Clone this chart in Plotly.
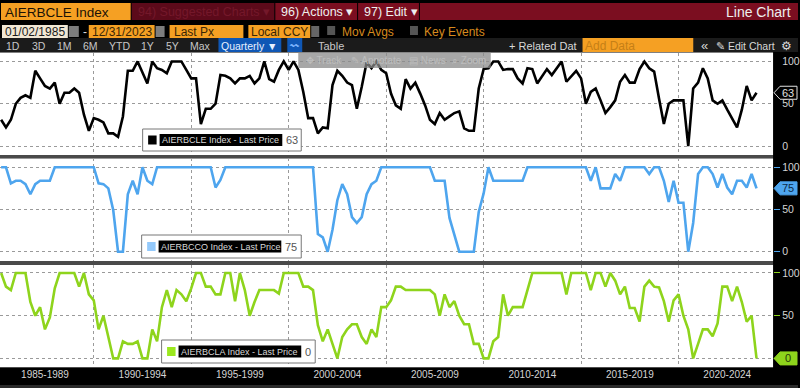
import pandas as pd
import plotly.graph_objects as go
from plotly.subplots import make_subplots

quarters = pd.date_range("1985-03-31", "2023-12-31", freq="QE")

aierbcle = [31,22,31,50,57,60,57,89,80,71,68,75,50,63,63,68,63,37,18,33,
            31,28,15,15,11,35,89,89,100,88,74,100,92,90,86,100,100,100,90,80,
            80,26,44,44,50,84,83,80,74,80,80,83,74,80,100,79,76,90,100,90,
            100,90,64,33,33,15,22,21,72,89,83,75,72,44,70,99,92,100,90,86,
            62,48,44,79,68,75,62,48,31,26,39,31,35,39,41,21,18,18,68,91,
            92,100,100,90,91,91,80,74,92,91,74,82,91,84,92,100,76,82,89,80,
            50,64,68,54,39,46,54,76,84,75,75,91,100,92,88,56,26,50,54,54,
            54,0,68,75,92,80,54,50,54,43,32,22,43,71,54,63]

aierbcco = [100,100,81,84,84,80,68,80,84,84,84,100,100,100,100,100,100,100,100,100,
            81,80,75,49,0,0,68,84,68,100,84,80,100,100,100,100,100,100,100,100,
            100,100,100,100,76,85,100,100,100,100,100,100,100,100,100,100,100,100,100,100,
            100,100,100,100,100,21,17,0,26,61,80,68,41,34,41,68,80,84,100,100,
            100,100,100,100,100,100,100,100,100,84,84,84,40,20,0,0,0,0,47,69,
            100,84,84,84,84,84,84,84,100,100,100,100,100,100,100,100,100,100,100,100,
            100,84,100,75,75,75,92,84,100,100,100,100,100,92,100,100,84,59,84,58,
            58,0,34,92,100,100,92,76,92,76,68,84,84,76,92,75]

aierbcla = [100,84,80,100,100,100,66,50,60,34,48,82,100,100,100,100,84,100,75,68,
            34,50,25,0,0,20,17,17,20,0,0,34,20,60,80,60,80,75,67,82,
            100,100,84,84,75,75,100,100,67,100,80,50,66,80,80,80,80,76,100,100,
            100,100,84,84,80,39,20,34,17,0,25,34,40,40,25,17,34,25,60,60,
            68,84,84,80,80,80,80,80,80,75,50,75,60,67,50,40,40,17,17,0,
            0,20,25,75,50,60,60,60,80,100,100,100,100,100,100,100,75,100,100,100,
            100,80,100,100,84,100,91,75,84,59,59,43,84,91,84,83,67,43,68,75,
            50,34,0,17,34,34,26,41,84,84,67,84,66,43,50,0]

series_names = ["AIERBCLE Index", "AIERBCCO Index", "AIERBCLA Index"]
series_values = [aierbcle, aierbcco, aierbcla]
series_colors = ["#000000", "#4ea5ee", "#8ed41c"]
swatch_colors = ["#000000", "#93c9fb", "#9be81e"]
period_labels = ["1985-1989", "1990-1994", "1995-1999", "2000-2004",
                 "2005-2009", "2010-2014", "2015-2019", "2020-2024"]
period_mids = ["1987-07-01", "1992-07-01", "1997-07-01", "2002-07-01",
               "2007-07-01", "2012-07-01", "2017-07-01", "2022-07-01"]
period_starts = ["1990-01-01", "1995-01-01", "2000-01-01", "2005-01-01",
                 "2010-01-01", "2015-01-01", "2020-01-01"]
y_ticks = [0, 50, 100]
y_tick_text = [["0", "50", "100"], ["0", "50", "100"], ["", "50", "100"]]

W, H = 800, 388
FONT = "Liberation Sans, Arial, sans-serif"
PLOT_R = 775
panels = [(52.5, 155.0, [-10.6, 110.6]), (158.3, 261.0, [-11.0, 110.6]), (264.7, 367.3, [-10.4, 109.7])]


def fx(x):
    return x / W


def fy(y):
    return 1 - y / H


fig = make_subplots(rows=3, cols=1, shared_xaxes=False)

for i, (name, vals, col) in enumerate(zip(series_names, series_values, series_colors)):
    top, bot, rng = panels[i]
    fig.add_trace(go.Scatter(x=quarters, y=vals, mode="lines", name=name, showlegend=False, hoverinfo="skip",
                             line=dict(color=col, width=2.6, shape="linear")), row=i + 1, col=1)
    fig.update_xaxes(row=i + 1, col=1, domain=[0, fx(PLOT_R)], range=["1985-03-10", "2024-11-05"],
                     tickmode="array", tickvals=period_mids if i == 2 else [],
                     ticktext=period_labels if i == 2 else [], ticks="", showgrid=False, zeroline=False,
                     showline=False, tickfont=dict(family=FONT, size=10, color="#d4d4d4"),
                     minor=dict(tickmode="array", tickvals=period_starts, showgrid=True, gridcolor="#9a9a9a",
                                griddash="dot", gridwidth=1, ticks=""))
    fig.update_yaxes(row=i + 1, col=1, domain=[fy(bot), fy(top)], range=rng, side="right", tickmode="array",
                     tickvals=y_ticks, ticktext=y_tick_text[i], showgrid=True, gridcolor="#9a9a9a",
                     griddash="dot", gridwidth=1, zeroline=False, showline=False,
                     ticks="outside", ticklen=6, tickcolor=col,
                     tickfont=dict(family=FONT, size=10.5, color="#d4d4d4"))

shapes = []
annots = []


def box(x0, y0, x1, y1, fill, line=None, layer="above", opacity=None, lw=1):
    d = dict(type="rect", xref="paper", yref="paper", x0=fx(x0), x1=fx(x1), y0=fy(y0), y1=fy(y1),
             fillcolor=fill, layer=layer, line=dict(color=line or fill, width=lw if line else 0))
    if opacity is not None:
        d["opacity"] = opacity
    shapes.append(d)


def txt(x, y, s, color="#d8d8d8", size=12, anchor="left"):
    annots.append(dict(x=fx(x), y=fy(y), text=s, xref="paper", yref="paper", xanchor=anchor, yanchor="middle",
                       showarrow=False, font=dict(family=FONT, size=size, color=color), borderpad=0))


ORANGE = "#f5a023"
RED = "#7b0e20"
# panel separators
box(0, 155, PLOT_R, 158.3, "#4a4a4a", layer="below")
box(0, 261, PLOT_R, 264.7, "#4a4a4a", layer="below")
box(0, 385, 800, 388, "#2a2a2a", layer="below")

# title row
box(1, 3, 131, 20, ORANGE)
box(132, 3, 275, 20, "#5c0a1a")
box(276, 3, 358, 20, RED)
box(359, 3, 420, 20, RED)
box(421, 3, 800, 20, RED)
txt(4, 12, "AIERBCLE Index", "#1a1206", 13.5)
txt(137, 12, "94) Suggested Charts ▾", "#74182a", 12.5)
txt(281, 12, "96) Actions ▾", "#eeeeee", 12.5)
txt(364, 12, "97) Edit ▾", "#eeeeee", 12.5)
txt(727, 12, "Line Chart", "#eeeeee", 14)

# date row
box(2, 25, 68, 38, "#f1e7d4")
box(69, 26, 79, 37, "#7d7d7d")
box(89, 25, 155, 38, ORANGE)
box(156, 26, 165, 37, "#7d7d7d")
box(170, 25, 244, 38, ORANGE)
box(249, 25, 311, 38, ORANGE)
box(312, 26, 320, 37, "#666666")
box(328, 26, 336, 35, "#555555")
box(411, 26, 419, 35, "#555555")
txt(4, 32, "01/02/1985", "#1a1a1a", 12)
txt(82, 32, "-", "#dddddd", 12)
txt(91, 32, "12/31/2023", "#3a2605", 12)
txt(173, 32, "Last Px", "#3a2605", 12)
txt(251, 32, "Local CCY", "#3a2605", 12)
txt(342, 32, "Mov Avgs", "#d68a1e", 12)
txt(424, 32, "Key Events", "#d68a1e", 12)

# tool row
box(0, 38, 800, 52, "#1b1b1b")
for x, s in zip([13, 39, 65, 91, 120, 148, 173, 201],
                ["1D", "3D", "1M", "6M", "YTD", "1Y", "5Y", "Max"]):
    txt(x, 45.5, s, "#c8c8c8", 10.5, "center")
box(219, 38, 282, 52, "#0f57b5")
box(288, 38, 303, 52, "#0f57b5")
txt(250, 45.5, "Quarterly ▼", "#e8f0ff", 10.5, "center")
txt(295, 45, "〰", "#7fb6ff", 9, "center")
txt(332, 45.5, "Table", "#c8c8c8", 11, "center")
txt(509, 45.5, "+ Related Dat", "#d8d8d8", 11)
box(584, 38, 695, 52, ORANGE)
txt(585, 45.5, "Add Data", "#c57f16", 12)
txt(702, 45, "«", "#d8d8d8", 13)
txt(717, 45.5, "✎ Edit Chart", "#d8d8d8", 10.5)
txt(788, 45.5, "⚙", "#d8d8d8", 12, "center")

# floating chart toolbar
box(299, 52, 492, 68, "#8a8a8a", opacity=0.75)
txt(306, 60, "✥ Track", "#bdbdbd", 10)
txt(351, 60, "✎ Annotate", "#bdbdbd", 10)
txt(409, 60, "▤ News", "#bdbdbd", 10)
txt(452, 60, "⌕ Zoom", "#bdbdbd", 10)

# legend boxes
legend_geo = [(143, 129, 302, 151), (142, 235, 302, 258), (162, 340, 316, 363)]
last_vals = [s[-1] for s in series_values]
for (x0, y0, x1, y1), nm, last, sw in zip(legend_geo, series_names, last_vals, swatch_colors):
    box(x0, y0, x1, y1, "#ffffff", "#777777")
    ym = (y0 + y1) / 2
    box(x0 + 5.5, ym - 4.5, x0 + 14, ym + 4.5, sw)
    tw = 123
    box(x0 + 17, ym - 6, x0 + 17 + tw, ym + 6, "#000000")
    txt(x0 + 18, ym, nm + " - Last Price", "#d8d8d8", 9)
    txt(x0 + 20 + tw, ym, str(last), "#555555", 11)

# last value tags on the right axis, positioned on the value scale
tag_styles = [("#000000", "#e0e0e0", "#e0e0e0"), ("#4ea5ee", "#4ea5ee", "#0c2a48"), ("#8ed41c", "#8ed41c", "#26380a")]
for i, (last, (fill, edge, fc)) in enumerate(zip(last_vals, tag_styles)):
    top, bot, rng = panels[i]
    yp = top + (rng[1] - last) / (rng[1] - rng[0]) * (bot - top)
    pts = [(776, yp), (782, yp - 6.5), (799, yp - 6.5), (799, yp + 6.5), (782, yp + 6.5)]
    path = "M " + " L ".join(f"{fx(a):.5f},{fy(b):.5f}" for a, b in pts) + " Z"
    shapes.append(dict(type="path", xref="paper", yref="paper", path=path, fillcolor=fill, layer="above",
                       line=dict(color=edge, width=1)))
    txt(790, yp, str(last), fc, 11, "center")

fig.update_layout(width=W, height=H, margin=dict(l=0, r=0, t=0, b=0), paper_bgcolor="#000000",
                  plot_bgcolor="#ffffff", showlegend=False, shapes=shapes, annotations=annots,
                  font=dict(family=FONT))
fig.write_html("out.html", config={"displayModeBar": False, "responsive": False},
               post_script="document.body.style.margin='0';document.body.style.overflow='hidden';")
